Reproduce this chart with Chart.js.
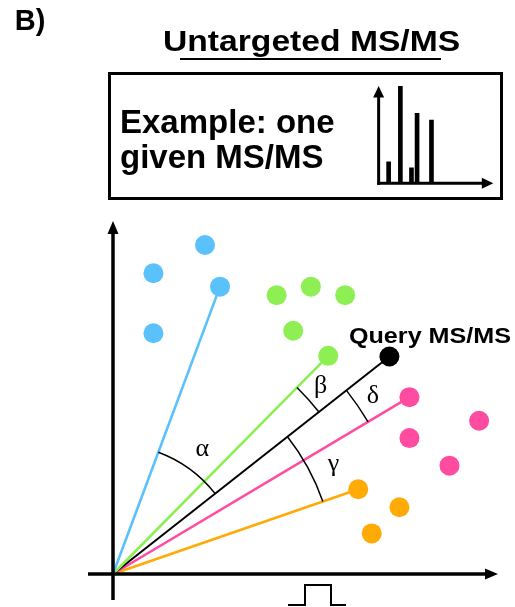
<!DOCTYPE html>
<html><head><meta charset="utf-8">
<script src="https://cdn.jsdelivr.net/npm/chart.js@4.4.0/dist/chart.umd.min.js"></script>
<style>
html,body{margin:0;padding:0;background:#fff;}
body{width:515px;height:607px;position:relative;overflow:hidden;font-family:"Liberation Sans",Arial,Helvetica,sans-serif;font-weight:bold;color:#000;}
.t{position:absolute;white-space:nowrap;line-height:1;}
#main{position:absolute;left:0;top:0;}
#spec{position:absolute;left:340px;top:76px;}
</style></head><body>
<canvas id="main" width="515" height="607"></canvas>
<div class="t" style="left:14.7px;top:5.5px;font-size:29px;">B)</div>
<div class="t" style="left:163px;top:27.2px;font-size:29px;transform:scaleX(1.16);transform-origin:0 0;">Untargeted MS/MS</div>
<div style="position:absolute;left:180px;top:58.3px;width:261px;height:1.5px;background:#000;"></div>
<div style="position:absolute;left:108px;top:72px;width:395px;height:128px;border:3px solid #000;box-sizing:border-box;"></div>
<div class="t" style="left:120px;top:104.8px;font-size:33px;">Example: one</div>
<div class="t" style="left:120px;top:139.8px;font-size:33px;">given MS/MS</div>
<canvas id="spec" width="160" height="120"></canvas>
<script>
// ---------- data ----------
// example spectrum (arbitrary m/z units, relative intensity)
const peakMz = [10.9, 23.7, 35.8, 41.9, 57.6];
const peakIntensity = [22, 100, 16, 72, 65];

// similarity space (arbitrary units)
const blueX = [2.39, 1.05, 2.78, 1.05];
const blueY = [9.32, 8.52, 8.14, 6.82];
const greenX = [4.25, 5.14, 6.03, 4.68, 5.59];
const greenY = [7.90, 8.14, 7.90, 6.89, 6.18];
const queryX = [7.18];
const queryY = [6.16];
const pinkX = [7.70, 9.51, 7.70, 8.74];
const pinkY = [5.01, 4.34, 3.85, 3.07];
const orangeX = [6.37, 7.44, 6.72];
const orangeY = [2.40, 1.89, 1.15];

// which point of each cluster carries the vector drawn from the origin
const vectorIndex = {blue: 2, green: 4, query: 0, pink: 0, orange: 0};
// angles between vectors
const angleNames = ['α', 'β', 'δ', 'γ'];
const angleFrom = ['blue', 'green', 'query', 'query'];
const angleTo = ['query', 'query', 'pink', 'orange'];
const queryLabel = 'Query MS/MS';

// ---------- styles ----------
const colors = {blue: '#5BC1FA', green: '#8EEF55', query: '#000000', pink: '#FF4BA0', orange: '#FFAA05'};
const lineWidths = {blue: 2.6, green: 2.6, query: 2, pink: 2.6, orange: 2.6};
const arcStyle = [
  {r: 130, off: 23, t: 0.49},
  {r: 262, off: 18, t: 0.47},
  {r: 297, off: 19, t: 0.47},
  {r: 222, off: 22, t: 0.65}
];

const clusters = {
  blue: [blueX, blueY], green: [greenX, greenY], query: [queryX, queryY],
  pink: [pinkX, pinkY], orange: [orangeX, orangeY]
};
const toPts = (xs, ys) => xs.map((x, i) => ({x: x, y: ys[i]}));

const arrowAxes = {
  id: 'arrowAxes',
  afterDatasetsDraw(chart, args, o) {
    const {ctx, chartArea: a, scales} = chart;
    const ox = scales.x.getPixelForValue(0), oy = scales.y.getPixelForValue(0);
    ctx.save();
    ctx.strokeStyle = '#000'; ctx.fillStyle = '#000'; ctx.lineWidth = o.lw;
    // y axis
    ctx.beginPath(); ctx.moveTo(ox, oy + o.down); ctx.lineTo(ox, a.top + o.head - 1); ctx.stroke();
    ctx.beginPath(); ctx.moveTo(ox, a.top); ctx.lineTo(ox - o.half, a.top + o.head);
    ctx.lineTo(ox + o.half, a.top + o.head); ctx.closePath(); ctx.fill();
    // x axis
    ctx.beginPath(); ctx.moveTo(ox - o.left, oy); ctx.lineTo(a.right - o.head + 1, oy); ctx.stroke();
    ctx.beginPath(); ctx.moveTo(a.right, oy); ctx.lineTo(a.right - o.head, oy - o.half);
    ctx.lineTo(a.right - o.head, oy + o.half); ctx.closePath(); ctx.fill();
    ctx.restore();
  }
};

// ---------- spectrum chart ----------
new Chart(document.getElementById('spec'), {
  type: 'bar',
  data: {datasets: [{data: toPts(peakMz, peakIntensity), backgroundColor: '#000', borderWidth: 0, barThickness: 4}]},
  options: {
    animation: false, responsive: false, devicePixelRatio: 1,
    layout: {padding: {left: 15.7, top: 10, right: 6.7, bottom: 12.7}},
    plugins: {legend: {display: false}, tooltip: {enabled: false},
      arrowAxes: {lw: 3, head: 11.5, half: 5.5, down: 1.5, left: 1.5}},
    scales: {
      x: {type: 'linear', min: 0, max: 100, display: false},
      y: {type: 'linear', min: 0, max: 100, display: false}
    }
  },
  plugins: [arrowAxes]
});

// ---------- similarity chart ----------
const annotations = {
  id: 'annotations',
  afterDatasetsDraw(chart) {
    const {ctx, scales: {x, y}} = chart;
    const ox = x.getPixelForValue(0), oy = y.getPixelForValue(0);
    const vecAngle = name => {
      const c = clusters[name], i = vectorIndex[name];
      return Math.atan2(y.getPixelForValue(c[1][i]) - oy, x.getPixelForValue(c[0][i]) - ox);
    };
    ctx.save();
    ctx.strokeStyle = '#000'; ctx.fillStyle = '#000'; ctx.lineWidth = 1.5;
    ctx.font = '26px "Liberation Serif", "Times New Roman", serif';
    ctx.textAlign = 'left'; ctx.textBaseline = 'alphabetic';
    angleNames.forEach((name, k) => {
      const a1 = vecAngle(angleFrom[k]), a2 = vecAngle(angleTo[k]);
      const s = arcStyle[k];
      ctx.beginPath(); ctx.arc(ox, oy, s.r, Math.min(a1, a2), Math.max(a1, a2)); ctx.stroke();
      const m = a1 + (a2 - a1) * s.t;
      const cx = ox + (s.r + s.off) * Math.cos(m), cy = oy + (s.r + s.off) * Math.sin(m);
      const tm = ctx.measureText(name);
      const w = tm.actualBoundingBoxLeft + tm.actualBoundingBoxRight;
      const h = tm.actualBoundingBoxAscent + tm.actualBoundingBoxDescent;
      ctx.fillText(name, cx - w / 2 + tm.actualBoundingBoxLeft, cy - h / 2 + tm.actualBoundingBoxAscent);
    });
    // query label
    const qx = x.getPixelForValue(queryX[0]), qy = y.getPixelForValue(queryY[0]);
    ctx.font = 'bold 21.5px "Liberation Sans", Arial, sans-serif';
    ctx.save(); ctx.translate(qx - 40.5, qy - 14); ctx.scale(1.17, 1); ctx.fillText(queryLabel, 0, 0); ctx.restore();
    // pulse symbol under the x axis
    ctx.lineWidth = 2;
    ctx.beginPath();
    ctx.moveTo(ox + 175, oy + 31); ctx.lineTo(ox + 192, oy + 31); ctx.lineTo(ox + 192, oy + 11);
    ctx.lineTo(ox + 218, oy + 11); ctx.lineTo(ox + 218, oy + 31); ctx.lineTo(ox + 233, oy + 31);
    ctx.stroke();
    ctx.restore();
  }
};

const datasets = [];
Object.keys(clusters).forEach(name => {
  const c = clusters[name], i = vectorIndex[name];
  datasets.push({
    type: 'line', data: [{x: 0, y: 0}, {x: c[0][i], y: c[1][i]}],
    borderColor: colors[name], borderWidth: lineWidths[name], pointRadius: 0,
    fill: false, order: 2, clip: false, tension: 0
  });
});
Object.keys(clusters).forEach(name => {
  const c = clusters[name];
  datasets.push({
    type: 'scatter', data: toPts(c[0], c[1]),
    backgroundColor: colors[name], borderWidth: 0, pointRadius: 10, pointHoverRadius: 10,
    order: 1, clip: false
  });
});

new Chart(document.getElementById('main'), {
  type: 'scatter',
  data: {datasets: datasets},
  options: {
    animation: false, responsive: false, devicePixelRatio: 1,
    layout: {padding: {left: 113, top: 221, right: 17, bottom: 33}},
    plugins: {legend: {display: false}, tooltip: {enabled: false},
      arrowAxes: {lw: 3.5, head: 13, half: 5.5, down: 26, left: 25}},
    scales: {
      x: {type: 'linear', min: 0, max: 10, display: false},
      y: {type: 'linear', min: 0, max: 10, display: false}
    }
  },
  plugins: [arrowAxes, annotations]
});
</script>
</body></html>
